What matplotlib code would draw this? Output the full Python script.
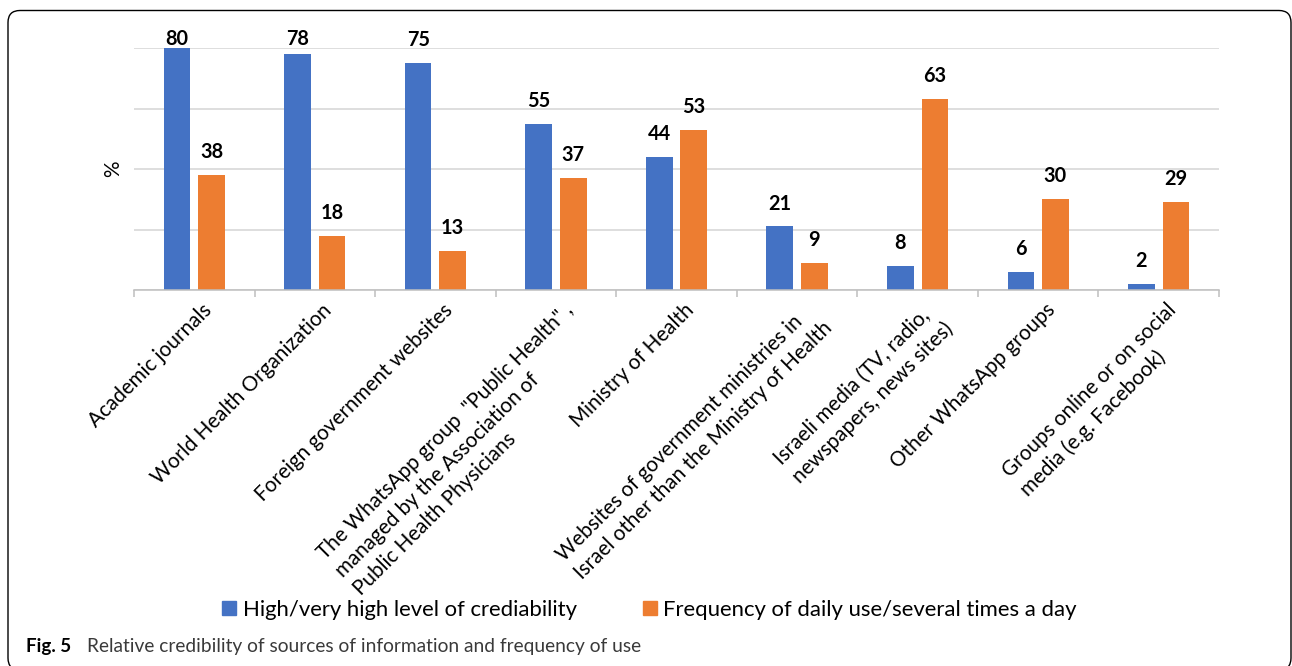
import numpy as np
import matplotlib.pyplot as plt
from matplotlib.patches import FancyBboxPatch, Patch
from matplotlib.transforms import ScaledTranslation, IdentityTransform

# Sources of information and the two survey measures (%)
sources = [
    "Academic journals",
    "World Health Organization",
    "Foreign government websites",
    'The WhatsApp group  "Public Health" ,\nmanaged by the Association of\nPublic Health Physicians',
    "Ministry of Health",
    "Websites of government ministries in\nIsrael other than the Ministry of Health",
    "Israeli media (TV, radio,\nnewspapers, news sites)",
    "Other WhatsApp groups",
    "Groups online or on social\nmedia (e.g. Facebook)",
]
credibility = [80, 78, 75, 55, 44, 21, 8, 6, 2]
daily_use = [38, 18, 13, 37, 53, 9, 63, 30, 29]
series_names = ["High/very high level of crediability",
                "Frequency of daily use/several times a day"]
caption_bold = "Fig. 5"
caption_text = "Relative credibility of sources of information and frequency of use"

BLUE = "#4472C4"
ORANGE = "#ED7D31"
GRID = "#d4d4d4"
AXIS = "#bfbfbf"

plt.rcParams['font.family'] = ['Lato', 'DejaVu Sans']

W, H = 1292, 666
fig = plt.figure(figsize=(W / 100, H / 100), dpi=100)
ax = fig.add_axes([134 / W, 1 - 290 / H, 1085 / W, 242 / H])

x = np.arange(len(sources))
bw = 0.221
off = 0.143
b1 = ax.bar(x - off, credibility, bw, color=BLUE, zorder=2)
b2 = ax.bar(x + off, daily_use, bw, color=ORANGE, zorder=2)

ax.set_xlim(-0.5, len(sources) - 0.5)
ax.set_ylim(0, 80)
ax.set_yticks(np.arange(0, 81, 20))
ax.yaxis.grid(True, color=GRID, lw=1.1)
ax.set_axisbelow(True)
ax.tick_params(axis='y', left=False, labelleft=False)
for s in ['top', 'right', 'left']:
    ax.spines[s].set_visible(False)
ax.spines['bottom'].set_color(AXIS)
ax.spines['bottom'].set_linewidth(1.1)
ax.spines['bottom'].set_zorder(3)

# tick marks between categories, labels drawn separately
ax.set_xticks(np.arange(-0.5, len(sources)), minor=True)
ax.tick_params(axis='x', which='minor', length=5, width=1.1, color=AXIS, direction='out')
ax.set_xticks([])

label_shift = ScaledTranslation(7 / 100, -10 / 100, fig.dpi_scale_trans)
for i, name in enumerate(sources):
    ax.text(i, 0, name, transform=ax.get_xaxis_transform() + label_shift,
            rotation=45, rotation_mode='anchor', ha='right', va='top',
            multialignment='left', linespacing=1.35, fontsize=14.9)

# value labels above bars (kept inside the chart area at the top)
for bars, vals in ((b1, credibility), (b2, daily_use)):
    for rect, v in zip(bars, vals):
        ax.annotate(str(v), (rect.get_x() + rect.get_width() / 2, min(v, 75.5)),
                    xytext=(0, 12.2), textcoords='offset points',
                    ha='center', va='baseline', fontsize=14.3, fontweight='bold',
                    annotation_clip=False)

ax.set_ylabel('%', fontsize=14.9, labelpad=8)

handles = [Patch(color=BLUE), Patch(color=ORANGE)]
fig.legend(handles, series_names, loc='center', bbox_to_anchor=(649.5 / W, 1 - 610 / H),
           ncol=2, frameon=False, fontsize=15.9, handlelength=0.62, handleheight=0.62,
           handletextpad=0.3, columnspacing=3.0, borderpad=0, borderaxespad=0)

fig.text(26 / W, 1 - 652 / H, caption_bold, fontweight='bold', fontsize=13.5, va='baseline')
fig.text(87 / W, 1 - 652 / H, caption_text, fontsize=13.8, color='#3a3a3a', va='baseline')

# rounded frame around the figure panel
frame = FancyBboxPatch((8, -4), 1283, 659.5, boxstyle='round,pad=0,rounding_size=12',
                       transform=IdentityTransform(), fill=False, ec='black', lw=1.0)
fig.add_artist(frame)

fig.savefig('out.png', dpi=100)
